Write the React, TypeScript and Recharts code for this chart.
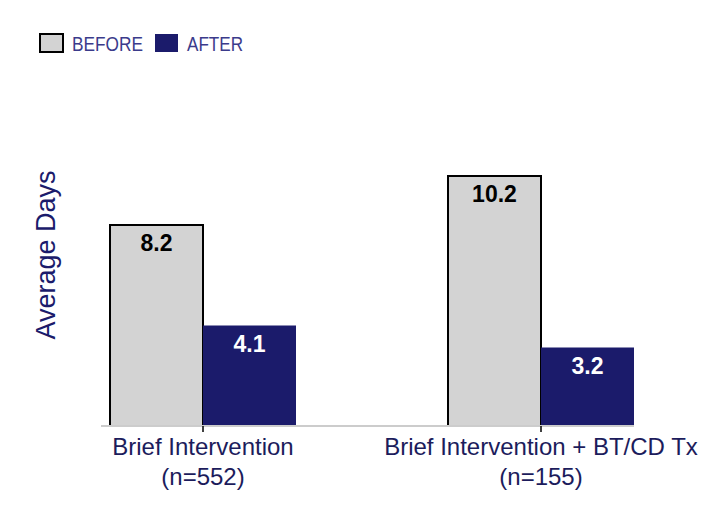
import React from "react";
import { BarChart, Bar, XAxis, YAxis, Legend, LabelList } from "recharts";

const categories = ["Brief Intervention", "Brief Intervention + BT/CD Tx"];
const sampleSizes = ["(n=552)", "(n=155)"];
const beforeValues = [8.2, 10.2];
const afterValues = [4.1, 3.2];
const seriesNames = ["BEFORE", "AFTER"];
const yAxisTitle = "Average Days";

const data = categories.map((c, i) => ({
  category: c,
  n: sampleSizes[i],
  before: beforeValues[i],
  after: afterValues[i],
}));

const FONT = '"Liberation Sans", Arial, sans-serif';
const NAVY = "#1b1b6b";
const GREY = "#d3d3d3";
const TEXT_NAVY = "#1c1c5c";

const CategoryTick = (props: any) => {
  const { x, y, index } = props;
  return (
    <text x={x} y={y} textAnchor="middle" fill={TEXT_NAVY} fontSize={24} fontFamily={FONT}>
      <tspan x={x} dy={21}>{categories[index]}</tspan>
      <tspan x={x} dy={30}>{sampleSizes[index]}</tspan>
    </text>
  );
};

const YTitle = (props: any) => {
  const vb = props.viewBox || { x: 0, y: 0, width: 0, height: 0 };
  const cx = vb.x + 5;
  const cy = vb.y + vb.height / 2 - 24;
  return (
    <text
      x={cx}
      y={cy}
      textAnchor="middle"
      dominantBaseline="central"
      transform={`rotate(-90, ${cx}, ${cy})`}
      fill={NAVY}
      fontSize={27}
      fontFamily={FONT}
    >
      {yAxisTitle}
    </text>
  );
};

const legendStyles = [
  { fill: GREY, stroke: "#000", boxX: 1, textX: 33, textLength: 71 },
  { fill: NAVY, stroke: "none", boxX: 116, textX: 148, textLength: 56 },
];

const LegendContent = () => (
  <svg width={220} height={24} style={{ display: "block" }}>
    {seriesNames.map((name, i) => {
      const s = legendStyles[i];
      return (
        <g key={name}>
          <rect x={s.boxX} y={1} width={23} height={18} fill={s.fill} stroke={s.stroke} strokeWidth={2} />
          <text
            x={s.textX}
            y={17.5}
            fontSize={21}
            fontFamily={FONT}
            fill="#3b3b8b"
            textLength={s.textLength}
            lengthAdjust="spacingAndGlyphs"
          >
            {name}
          </text>
        </g>
      );
    })}
  </svg>
);

export default function App() {
  return (
    <div style={{ width: 711, height: 502 }}>
      <BarChart
        width={711}
        height={502}
        data={data}
        margin={{ top: 124, right: 85, bottom: 24, left: 33 }}
        barGap={0}
        barSize={93}
      >
        <XAxis
          dataKey="category"
          height={60}
          padding={{ left: -67, right: -76 }}
          axisLine={{ stroke: "#cccccc", strokeWidth: 2 }}
          tickLine={{ stroke: "#000", strokeWidth: 1.5 }}
          tickSize={6}
          tick={<CategoryTick />}
          interval={0}
        />
        <YAxis
          domain={[0, 12]}
          width={60}
          tick={false}
          tickLine={false}
          axisLine={false}
          label={{ content: <YTitle /> }}
        />
        <Legend
          layout="horizontal"
          verticalAlign="middle"
          align="center"
          wrapperStyle={{ top: 25, left: 31, width: "auto", height: "auto" }}
          content={<LegendContent />}
        />
        <Bar dataKey="before" name={seriesNames[0]} fill={GREY} stroke="#000" strokeWidth={2} isAnimationActive={false}>
          <LabelList
            dataKey="before"
            position="insideTop"
            offset={10}
            fill="#000"
            fontSize={23}
            fontWeight="bold"
            fontFamily={FONT}
          />
        </Bar>
        <Bar dataKey="after" name={seriesNames[1]} fill={NAVY} isAnimationActive={false}>
          <LabelList
            dataKey="after"
            position="insideTop"
            offset={10}
            fill="#fff"
            fontSize={23}
            fontWeight="bold"
            fontFamily={FONT}
          />
        </Bar>
      </BarChart>
    </div>
  );
}
